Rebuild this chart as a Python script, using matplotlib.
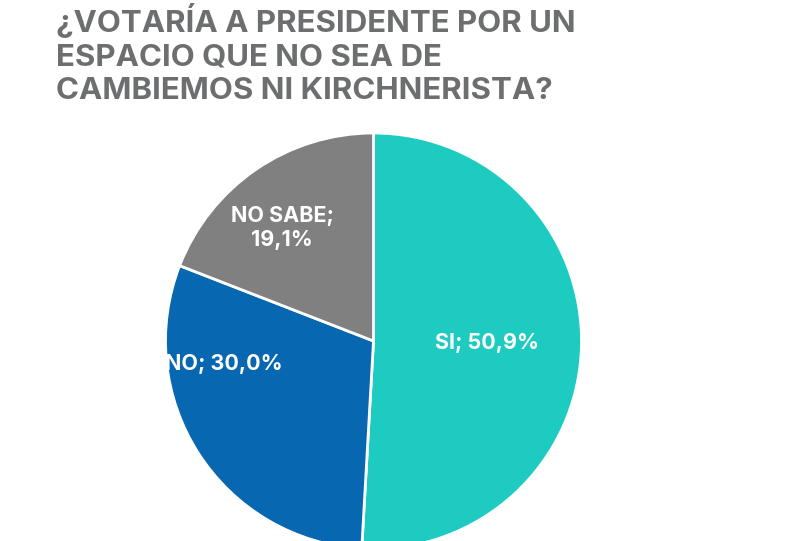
import matplotlib.pyplot as plt

# Data
labels = ['SI', 'NO', 'NO SABE']
values = [50.9, 30.0, 19.1]
value_text = ['50,9%', '30,0%', '19,1%']
colors = ['#1ECBC1', '#0867B1', '#808080']

TITLE = '¿VOTARÍA A PRESIDENTE POR UN\nESPACIO QUE NO SEA DE\nCAMBIEMOS NI KIRCHNERISTA?'

W, H = 800, 541
fig = plt.figure(figsize=(W / 100, H / 100), dpi=100)

# pie placed in pixel terms: centre (373.5, 341), radius 208
cx, cy, r = 373.5, 341, 208
ax = fig.add_axes([(cx - r) / W, (H - cy - r) / H, 2 * r / W, 2 * r / H])
wedges, _ = ax.pie(values, colors=colors, startangle=90, counterclock=False,
                   wedgeprops=dict(edgecolor='white', linewidth=2))
ax.set_xlim(-1, 1)
ax.set_ylim(-1, 1)
ax.set_aspect('equal')
ax.axis('off')

font = dict(family=['Inter', 'DejaVu Sans'], fontweight='bold', color='white', fontsize=15.5)

ax.text(0.546, -0.01, f'{labels[0]}; {value_text[0]}', ha='center', va='center', **font)
t = ax.text(-0.435, -0.11, f'{labels[1]}; {value_text[1]}', ha='right', va='center', **font)
t.set_clip_path(wedges[1])
ax.text(-0.44, 0.543, f'{labels[2]};\n{value_text[2]}', ha='center', va='center',
        linespacing=1.3, **font)

fig.text(56 / W, 1 - 3 / H, TITLE, ha='left', va='top', fontsize=22.5,
         fontweight='bold', color='#6D6E70', family=['Inter', 'DejaVu Sans'],
         linespacing=1.24)

fig.savefig('out.png', dpi=100)
